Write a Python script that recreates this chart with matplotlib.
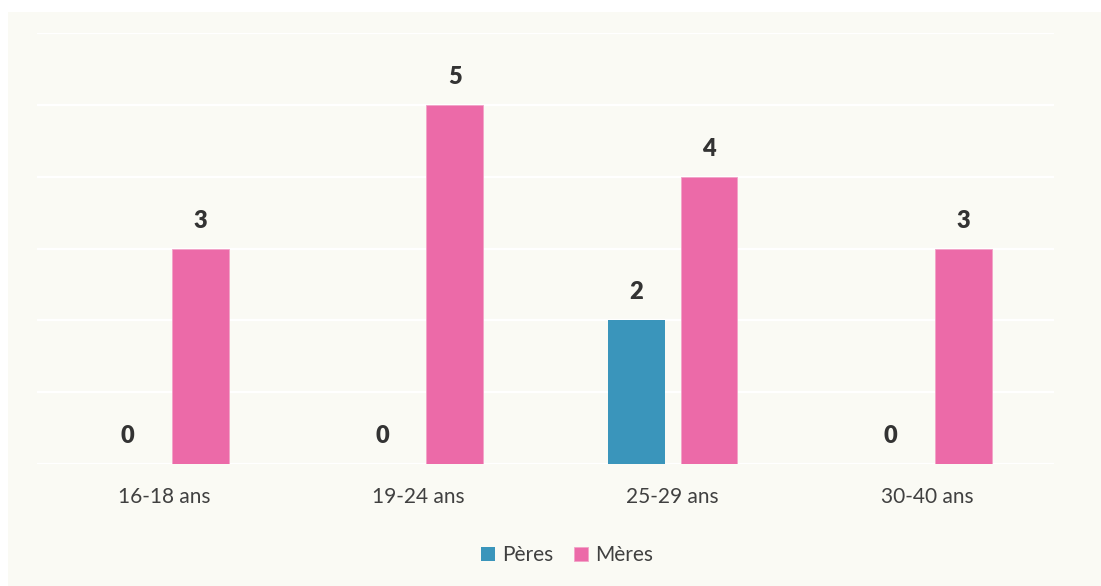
import matplotlib

matplotlib.use("Agg")

import matplotlib.pyplot as plt
import numpy as np
from matplotlib.patches import Rectangle

plt.rcParams["font.family"] = ["Lato", "DejaVu Sans"]

CATEGORIES = ["16-18 ans", "19-24 ans", "25-29 ans", "30-40 ans"]
PERES = [0, 0, 2, 0]
MERES = [3, 5, 4, 3]

BLUE = "#3a95bb"
PINK = "#ec6aa8"
PANEL = "#fafaf4"
TEXT = "#404040"

fig = plt.figure(figsize=(11.01, 5.86), dpi=100)
fig.patch.set_facecolor("white")
fig.add_artist(Rectangle((8 / 1101, 0), 1 - 8 / 1101, 1 - 12 / 586,
                         transform=fig.transFigure, facecolor=PANEL,
                         edgecolor="none", zorder=0))

ax = fig.add_axes([37 / 1101, 1 - 464 / 586, 1017 / 1101, 431 / 586])
ax.set_facecolor("none")

x = np.arange(len(CATEGORIES))
width = 0.224
off = 0.143
b1 = ax.bar(x - off, PERES, width, color=BLUE, label="Pères", zorder=3)
b2 = ax.bar(x + off, MERES, width, color=PINK, edgecolor="#f2a3c8",
            linewidth=0.6, label="Mères", zorder=3)

for bars, vals in ((b1, PERES), (b2, MERES)):
    for rect, v in zip(bars, vals):
        ax.annotate(str(v), (rect.get_x() + rect.get_width() / 2, v),
                    xytext=(0, 17), textcoords="offset pixels",
                    ha="center", va="bottom", fontsize=17,
                    fontweight="heavy", color="#333333")

ax.set_xlim(-0.5, len(CATEGORIES) - 0.5)
ax.set_ylim(0, 6)
ax.set_yticks(range(0, 7))
ax.yaxis.grid(True, color="white", linewidth=1.6, zorder=1)
ax.tick_params(axis="y", left=False, labelleft=False)
ax.tick_params(axis="x", bottom=False, labelsize=15, labelcolor=TEXT, pad=13)
ax.set_xticks(x)
ax.set_xticklabels(CATEGORIES)
for s in ax.spines.values():
    s.set_visible(False)

leg = fig.legend(handles=[b1, b2], loc="center", bbox_to_anchor=(567 / 1101, 1 - 555 / 586),
                 ncol=2, frameon=False, fontsize=15, handlelength=0.65, handleheight=0.65,
                 handletextpad=0.35, columnspacing=1.0)
for t in leg.get_texts():
    t.set_color(TEXT)

fig.savefig("out.png", dpi=100, facecolor=fig.get_facecolor())
